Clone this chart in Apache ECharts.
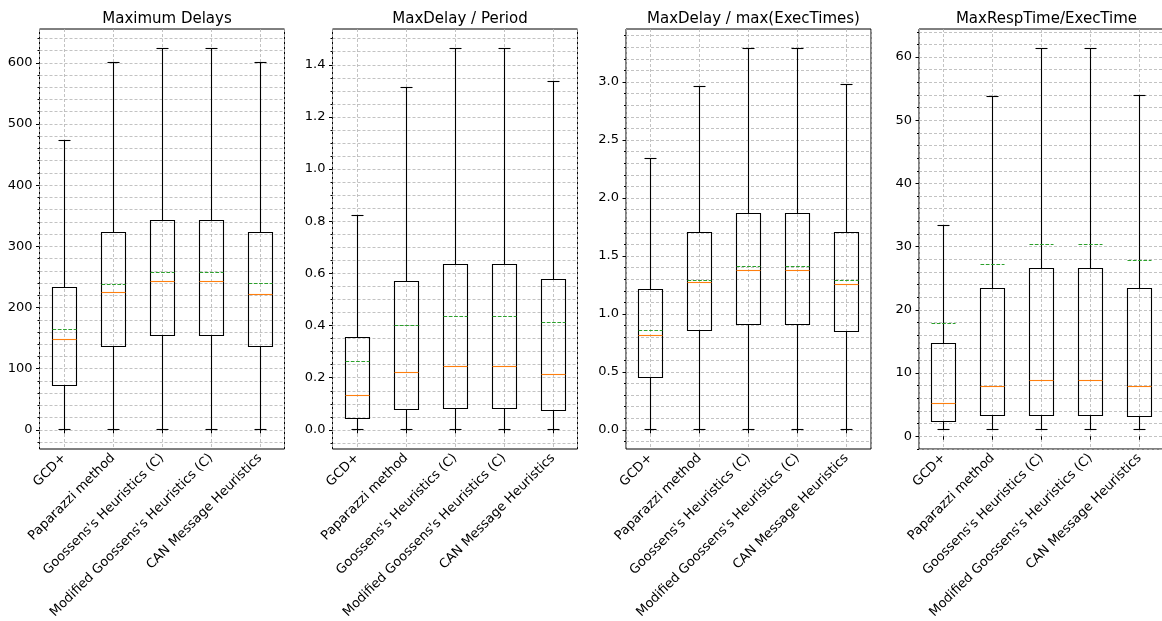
<!DOCTYPE html>
<html><head><meta charset="utf-8">
<script src="https://cdn.jsdelivr.net/npm/echarts@6/dist/echarts.min.js"></script>
<style>html,body{margin:0;padding:0;background:#fff}#c{width:1162px;height:621px}</style>
</head><body><div id="c"></div>
<script>
const categories = ['GCD+', 'Paparazzi method', "Goossens's Heuristics (C)", "Modified Goossens's Heuristics (C)", 'CAN Message Heuristics'];
const titles = ['Maximum Delays', 'MaxDelay / Period', 'MaxDelay / max(ExecTimes)', 'MaxRespTime/ExecTime'];

// Panel 1: Maximum Delays
const delayLow    = [0, 0, 0, 0, 0];
const delayQ1     = [73, 137, 154, 154, 137];
const delayMedian = [147, 225, 243, 243, 222];
const delayQ3     = [233, 323, 342, 342, 323];
const delayHigh   = [473, 600, 624, 624, 600];
const delayMean   = [164, 238, 257, 257, 239];
const delayTicks  = [0, 100, 200, 300, 400, 500, 600];

// Panel 2: MaxDelay / Period
const periodLow    = [0, 0, 0, 0, 0];
const periodQ1     = [0.042, 0.077, 0.082, 0.082, 0.073];
const periodMedian = [0.133, 0.220, 0.244, 0.244, 0.212];
const periodQ3     = [0.354, 0.570, 0.636, 0.636, 0.577];
const periodHigh   = [0.821, 1.313, 1.464, 1.464, 1.335];
const periodMean   = [0.262, 0.402, 0.433, 0.433, 0.411];
const periodTicks  = [0, 0.2, 0.4, 0.6, 0.8, 1.0, 1.2, 1.4];

// Panel 3: MaxDelay / max(ExecTimes)
const execLow    = [0, 0, 0, 0, 0];
const execQ1     = [0.450, 0.861, 0.913, 0.913, 0.853];
const execMedian = [0.818, 1.272, 1.375, 1.375, 1.258];
const execQ3     = [1.209, 1.703, 1.863, 1.863, 1.705];
const execHigh   = [2.345, 2.960, 3.293, 3.293, 2.983];
const execMean   = [0.855, 1.286, 1.413, 1.413, 1.289];
const execTicks  = [0, 0.5, 1.0, 1.5, 2.0, 2.5, 3.0];

// Panel 4: MaxRespTime/ExecTime
const respLow    = [1, 1, 1, 1, 1];
const respQ1     = [2.27, 3.22, 3.32, 3.32, 3.16];
const respMedian = [5.16, 7.90, 8.85, 8.85, 7.85];
const respQ3     = [14.74, 23.43, 26.59, 26.59, 23.43];
const respHigh   = [33.38, 53.75, 61.42, 61.42, 53.85];
const respMean   = [17.9, 27.16, 30.32, 30.32, 27.8];
const respTicks  = [0, 10, 20, 30, 40, 50, 60];

const panels = [
  {low: delayLow, q1: delayQ1, med: delayMedian, q3: delayQ3, high: delayHigh, mean: delayMean, ticks: delayTicks, minorSplit: 5, fmt: v => String(Math.round(v))},
  {low: periodLow, q1: periodQ1, med: periodMedian, q3: periodQ3, high: periodHigh, mean: periodMean, ticks: periodTicks, minorSplit: 4, fmt: v => Number(v).toFixed(1)},
  {low: execLow, q1: execQ1, med: execMedian, q3: execQ3, high: execHigh, mean: execMean, ticks: execTicks, minorSplit: 5, fmt: v => Number(v).toFixed(1)},
  {low: respLow, q1: respQ1, med: respMedian, q3: respQ3, high: respHigh, mean: respMean, ticks: respTicks, minorSplit: 5, fmt: v => String(Math.round(v))}
];

const FONT = 'DejaVu Sans';
const lefts = [39.5, 332.5, 626, 919];
const W = 245, TOP = 29, H = 420;
const gridLine = {show: true, lineStyle: {color: '#b4b4b4', width: 0.8, type: [3, 2]}};

const snap = v => Math.round(v - 0.5) + 0.5;

function renderItem(params, api) {
  const i = api.value(0);
  const lo = api.coord([i, api.value(1)]);
  const q1 = api.coord([i, api.value(2)]);
  const md = api.coord([i, api.value(3)]);
  const q3 = api.coord([i, api.value(4)]);
  const hi = api.coord([i, api.value(5)]);
  const mn = api.coord([i, api.value(6)]);
  const bw = api.size([1, 0])[0];
  const half = Math.round(bw * 0.25), cap = Math.round(bw * 0.125);
  const x = snap(lo[0]);
  const blk = {stroke: '#000', lineWidth: 1.1, fill: null};
  const hl = (y, h, style) => ({type: 'line', shape: {x1: x - h, y1: snap(y), x2: x + h, y2: snap(y)}, style});
  const yq1 = snap(q1[1]), yq3 = snap(q3[1]);
  return {type: 'group', children: [
    {type: 'line', shape: {x1: x, y1: yq1, x2: x, y2: snap(lo[1])}, style: blk},
    {type: 'line', shape: {x1: x, y1: yq3, x2: x, y2: snap(hi[1])}, style: blk},
    hl(lo[1], cap, blk),
    hl(hi[1], cap, blk),
    {type: 'rect', shape: {x: x - half, y: yq3, width: 2 * half, height: yq1 - yq3}, style: blk},
    hl(md[1], half, {stroke: '#ff7f0e', lineWidth: 1.1}),
    hl(mn[1], half, {stroke: '#2ca02c', lineWidth: 1.1, lineDash: [3.7, 1.6]})
  ]};
}

const option = {
  animation: false,
  backgroundColor: '#fff',
  textStyle: {fontFamily: FONT},
  title: titles.map((t, k) => ({
    text: t, left: lefts[k] + W / 2, top: 7, textAlign: 'center',
    textStyle: {fontFamily: FONT, fontSize: 15, fontWeight: 'normal', color: '#000'}
  })),
  grid: lefts.map(l => ({left: l, top: TOP, width: W, height: H, show: true, borderColor: '#000', borderWidth: 1,
    backgroundColor: 'transparent', containLabel: false, outerBoundsMode: 'none'})),
  xAxis: [].concat(...lefts.map((l, k) => [
    {type: 'category', gridIndex: k, data: categories, boundaryGap: true, position: 'bottom',
     axisLine: {show: false},
     axisTick: {show: true, alignWithLabel: true, length: 3.5, lineStyle: {color: '#000'}},
     axisLabel: {rotate: 45, interval: 0, fontSize: 13, color: '#000', fontFamily: FONT, margin: 7},
     splitLine: {show: false}},
    {type: 'value', gridIndex: k, min: 0.5, max: 5.5, position: 'top',
     axisLine: {show: false}, axisTick: {show: false}, axisLabel: {show: false},
     splitLine: gridLine}
  ])),
  yAxis: panels.map((p, k) => {
    const lo = Math.min(...p.low), hi = Math.max(...p.high);
    const pad = 0.05 * (hi - lo);
    return {type: 'value', gridIndex: k, min: lo - pad, max: hi + pad, splitNumber: 7,
      axisLine: {show: false},
      axisTick: {show: true, length: 3.5, lineStyle: {color: '#000'}, customValues: p.ticks},
      minorTick: {show: true, splitNumber: p.minorSplit, length: 2, lineStyle: {color: '#000'}},
      axisLabel: {customValues: p.ticks, fontSize: 13, color: '#000', fontFamily: FONT, margin: 7, formatter: p.fmt},
      splitLine: gridLine,
      minorSplitLine: gridLine};
  }),
  series: panels.map((p, k) => ({
    type: 'custom', xAxisIndex: 2 * k, yAxisIndex: k, renderItem,
    encode: {x: 0, y: [1, 2, 3, 4, 5, 6]},
    data: categories.map((c, i) => [i, p.low[i], p.q1[i], p.med[i], p.q3[i], p.high[i], p.mean[i]]),
    z: 3
  }))
};

echarts.init(document.getElementById('c'), null, {renderer: 'canvas'}).setOption(option);
</script></body></html>
